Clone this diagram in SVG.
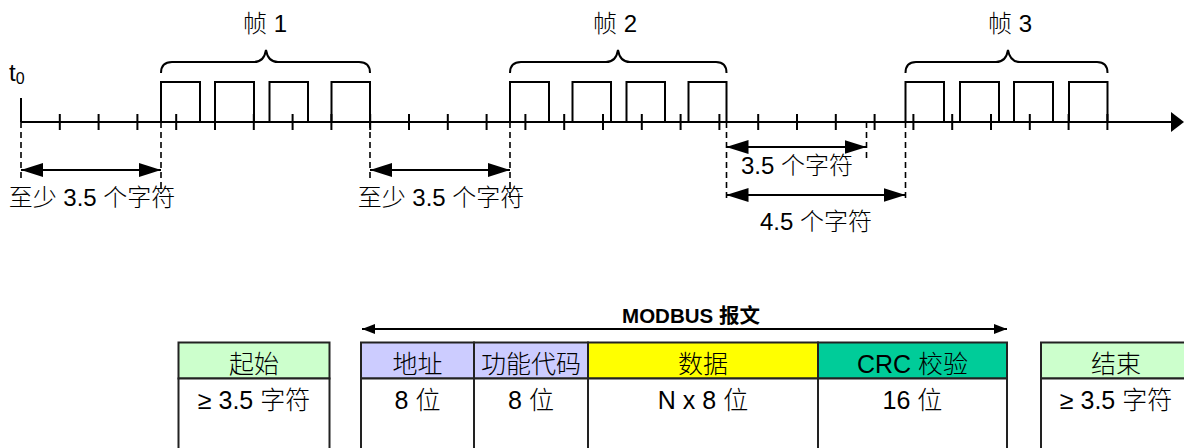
<svg xmlns="http://www.w3.org/2000/svg" width="1184" height="448" viewBox="0 0 1184 448">
<style>
.ln{stroke:#000;stroke-width:2;fill:none}
.dash{stroke:#000;stroke-width:1.6;fill:none;stroke-dasharray:6,4}
.tk{stroke:#000;stroke-width:2}
.t{font-family:"Liberation Sans","Noto Sans CJK SC",sans-serif;font-size:24px;fill:#000;font-weight:300}
.c{text-anchor:middle}
.tb{font-size:25px}
.b{font-weight:bold;font-size:20.5px}
.cell{stroke:#222;stroke-width:2}
</style>
<defs>
<marker id="ah" viewBox="0 0 22 14" refX="22" refY="7" markerWidth="22" markerHeight="14" markerUnits="userSpaceOnUse" orient="auto-start-reverse"><path d="M0,0 L22,7 L0,14 z" fill="#000"/></marker>
<marker id="as" viewBox="0 0 13 10" refX="13" refY="5" markerWidth="13" markerHeight="10" markerUnits="userSpaceOnUse" orient="auto-start-reverse"><path d="M0,0 L13,5 L0,10 z" fill="#000"/></marker>
</defs>
<rect width="1184" height="448" fill="#fff"/>

<g id="timeline">
<line class="ln" x1="21" y1="122" x2="1176" y2="122"/>
<polygon points="1171,112 1184,122 1171,132" fill="#000"/>
<line class="ln" x1="21" y1="98" x2="21" y2="122"/>
<g id="ticks">
<path class="tk" d="M59.8,114V130M98.6,114V130M137.4,114V130M176.2,114V130M215,114V130M253.8,114V130M292.6,114V130M331.4,114V130M370.2,114V130M409,114V130M447.8,114V130M486.6,114V130M525.4,114V130M564.2,114V130M603,114V130M641.8,114V130M680.6,114V130M719.4,114V130M758.2,114V130M797,114V130M835.8,114V130M874.6,114V130M913.4,114V130M952.2,114V130M991,114V130M1029.8,114V130M1068.6,114V130M1107.4,114V130"/>
</g>
<text class="t" x="9" y="81">t<tspan font-size="16" dy="3">0</tspan></text>
</g>

<g id="frame1">
<path class="ln" d="M161,122V82H200V122M215,122V82H254V122M269.5,122V82H308V122M331.5,122V82H370V122"/>
<path class="ln" d="M161,73Q161,62 172,62H254Q264,62 266,50Q268,62 278,62H359Q370,62 370,73"/>
<text class="t c" x="265" y="32">帧 1</text>
</g>

<g id="frame2">
<path class="ln" d="M510,122V82H549V122M572.5,122V82H611V122M626.5,122V82H665V122M688.5,122V82H726.5V122"/>
<path class="ln" d="M510,73Q510,62 521,62H606Q616,62 618,50Q620,62 630,62H716Q726.5,62 726.5,73"/>
<text class="t c" x="615" y="32">帧 2</text>
</g>

<g id="frame3">
<path class="ln" d="M905.5,122V82H944V122M960,122V82H999V122M1014,122V82H1053V122M1069,122V82H1107.5V122"/>
<path class="ln" d="M905.5,73Q905.5,62 916,62H996Q1006,62 1008,50Q1010,62 1020,62H1097Q1107.5,62 1107.5,73"/>
<text class="t c" x="1010" y="32">帧 3</text>
</g>

<g id="connectors">
<path class="dash" d="M21,122V182M161,122V194M370,122V181M510,122V198M726.5,122V199M866.5,122V158M905.5,122V199"/>
<line class="ln" x1="21" y1="170" x2="161" y2="170" marker-start="url(#ah)" marker-end="url(#ah)"/>
<line class="ln" x1="370" y1="170" x2="510" y2="170" marker-start="url(#ah)" marker-end="url(#ah)"/>
<line class="ln" x1="726.5" y1="147" x2="866.5" y2="147" marker-start="url(#ah)" marker-end="url(#ah)"/>
<line class="ln" x1="726.5" y1="195" x2="905.5" y2="195" marker-start="url(#ah)" marker-end="url(#ah)"/>
<line class="ln" x1="362" y1="329" x2="1007" y2="329" marker-start="url(#as)" marker-end="url(#as)"/>
</g>

<g id="gap-labels">
<text class="t c" x="92" y="206">至少 3.5 个字符</text>
<text class="t c" x="441" y="206">至少 3.5 个字符</text>
<text class="t c" x="797" y="174">3.5 个字符</text>
<text class="t c" x="816" y="230">4.5 个字符</text>
<text class="t c b" x="691" y="323">MODBUS 报文</text>
</g>

<g id="start">
<rect class="cell" x="178.5" y="342.5" width="151" height="36" fill="#CCFFCC"/>
<rect class="cell" x="178.5" y="378.5" width="151" height="80" fill="#fff"/>
<text class="t tb c" x="254" y="373">起始</text>
<text class="t tb c" x="254" y="409">≥ 3.5 字符</text>
</g>
<g id="address">
<rect class="cell" x="361" y="342.5" width="113" height="36" fill="#CCCCFF"/>
<rect class="cell" x="361" y="378.5" width="113" height="80" fill="#fff"/>
<text class="t tb c" x="417.5" y="373">地址</text>
<text class="t tb c" x="417.5" y="409">8 位</text>
</g>
<g id="function">
<rect class="cell" x="474" y="342.5" width="114" height="36" fill="#CCCCFF"/>
<rect class="cell" x="474" y="378.5" width="114" height="80" fill="#fff"/>
<text class="t tb c" x="531" y="373">功能代码</text>
<text class="t tb c" x="531" y="409">8 位</text>
</g>
<g id="data">
<rect class="cell" x="588" y="342.5" width="230" height="36" fill="#FFFF00"/>
<rect class="cell" x="588" y="378.5" width="230" height="80" fill="#fff"/>
<text class="t tb c" x="703" y="373">数据</text>
<text class="t tb c" x="703" y="409">N x 8 位</text>
</g>
<g id="crc">
<rect class="cell" x="818" y="342.5" width="189" height="36" fill="#00CC99"/>
<rect class="cell" x="818" y="378.5" width="189" height="80" fill="#fff"/>
<text class="t tb c" x="912.5" y="373">CRC 校验</text>
<text class="t tb c" x="912.5" y="409">16 位</text>
</g>
<g id="end">
<rect class="cell" x="1041" y="342.5" width="151" height="36" fill="#CCFFCC"/>
<rect class="cell" x="1041" y="378.5" width="151" height="80" fill="#fff"/>
<text class="t tb c" x="1116" y="373">结束</text>
<text class="t tb c" x="1116" y="409">≥ 3.5 字符</text>
</g>
</svg>
